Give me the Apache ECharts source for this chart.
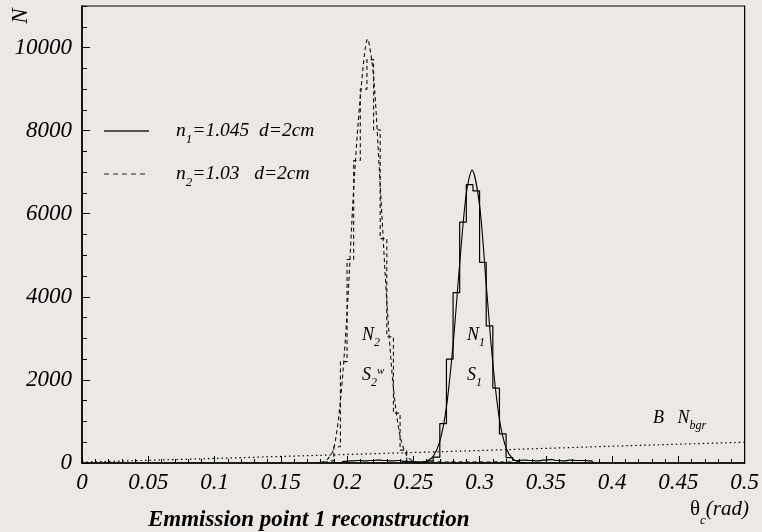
<!DOCTYPE html>
<html>
<head>
<meta charset="utf-8">
<script src="https://cdn.jsdelivr.net/npm/echarts@6/dist/echarts.min.js"></script>
<style>
html, body { margin: 0; padding: 0; background: #ebe8e6; }
#chart { width: 762px; height: 532px; }
</style>
</head>
<body>
<div id="chart"></div>
<script>
// histogram n1 = 1.045 (bin centres, width 0.005 rad)
var n1Bins   = [0.1925,0.1975,0.2025,0.2075,0.2125,0.2175,0.2225,0.2275,0.2325,0.2375,0.2425,0.2475,0.2525,0.2575,0.2625,0.2675,0.2725,0.2775,0.2825,0.2875,0.2925,0.2975,0.3025,0.3075,0.3125,0.3175,0.3225,0.3275,0.3325,0.3375,0.3425,0.3475,0.3525,0.3575,0.3625,0.3675,0.3725,0.3775,0.3825,0.3875];
var n1Counts = [0,40,50,60,50,60,70,60,50,60,40,30,20,30,50,140,950,2500,4100,5800,6700,6550,4830,3300,1800,700,130,60,70,60,50,70,80,60,50,70,60,60,50,0];

// histogram n2 = 1.03
var n2Bins   = [0.1775,0.1825,0.1875,0.1925,0.1975,0.2025,0.2075,0.2125,0.2175,0.2225,0.2275,0.2325,0.2375,0.2425,0.2475,0.2525,0.2575,0.2625,0.2675,0.2725,0.2775,0.2825,0.2875,0.2925,0.2975,0.3025,0.3075,0.3125,0.3175,0.3225,0.3275];
var n2Counts = [0,20,50,390,2440,4900,7280,9000,9710,8020,5400,3040,1200,310,40,20,30,20,30,20,30,20,30,20,30,20,20,30,20,20,0];

// fitted curves
var n1FitX = [0.25,0.255,0.26,0.265,0.27,0.275,0.28,0.285,0.29,0.2943,0.30,0.305,0.31,0.315,0.32,0.325,0.33,0.335];
var n1FitY = [0,10,40,160,520,1350,2850,4800,6500,7050,6200,4300,2400,1050,360,100,20,0];
var n2FitX = [0.18,0.185,0.19,0.195,0.2,0.205,0.21,0.2155,0.22,0.225,0.23,0.235,0.24,0.245,0.25,0.255];
var n2FitY = [10,80,350,1500,3600,6600,8800,10200,9300,6700,3900,1800,650,180,40,5];

// background B
var bgrX = [0,0.1,0.2,0.3,0.4,0.5];
var bgrY = [20,110,205,300,405,500];

var yTicks = [0,2000,4000,6000,8000,10000];

function pairs(xs, ys) {
  var out = [];
  for (var i = 0; i < xs.length; i++) out.push([xs[i], ys[i]]);
  return out;
}

var serif = 'Liberation Serif';
// rich text: main glyphs hang from the line top, subscripts sit on the line bottom
var txt = { fontFamily: serif, fontStyle: 'italic', fontSize: 18, lineHeight: 20, verticalAlign: 'top', color: '#000' };
var sub = { fontFamily: serif, fontStyle: 'italic', fontSize: 12, lineHeight: 23, verticalAlign: 'bottom', color: '#000' };
var sup = { fontFamily: serif, fontStyle: 'italic', fontSize: 11, lineHeight: 11, verticalAlign: 'top', color: '#000' };
var richSet = { t: txt, s: sub, p: sup, g: { width: 22 } };

var legRich = {
  t: { fontFamily: serif, fontStyle: 'italic', fontSize: 19.5, lineHeight: 22, verticalAlign: 'top', color: '#000' },
  s: { fontFamily: serif, fontStyle: 'italic', fontSize: 13, lineHeight: 25, verticalAlign: 'bottom', color: '#000' },
  g: { width: 22 }
};

var myChart = echarts.init(document.getElementById('chart'));
var option = {
  backgroundColor: '#ebe8e6',
  animation: false,
  title: {
    text: 'Emmission point 1 reconstruction',
    left: 148,
    top: 509,
    padding: 0,
    textStyle: { fontFamily: serif, fontStyle: 'italic', fontWeight: 'bold', fontSize: 23, color: '#000' }
  },
  legend: {
    orient: 'vertical',
    left: 103,
    top: 121,
    padding: 0,
    itemWidth: 45,
    itemHeight: 25,
    itemGap: 18,
    itemStyle: { opacity: 0 },
    data: [
      { name: 'n1', lineStyle: { width: 2, color: '#555' } },
      { name: 'n2', lineStyle: { width: 1, color: '#222', type: [5, 4] } }
    ],
    formatter: function (name) {
      if (name === 'n1') return '{g| }{t|n}{s|1}{t|=1.045  d=2cm}';
      return '{g| }{t|n}{s|2}{t|=1.03   d=2cm}';
    },
    textStyle: { rich: legRich, padding: [5, 0, 0, 0] }
  },
  grid: {
    left: 82, right: 16, top: 6, bottom: 69,
    show: true, borderColor: '#000', borderWidth: 1.2, backgroundColor: 'transparent'
  },
  xAxis: {
    type: 'value',
    min: 0, max: 0.5, interval: 0.05,
    axisLine: { lineStyle: { color: '#000', width: 1.5 } },
    axisTick: { inside: true, length: 7, lineStyle: { color: '#000' } },
    minorTick: { show: true, splitNumber: 5, length: 4, lineStyle: { color: '#000' } },
    splitLine: { show: false },
    axisLabel: {
      fontFamily: serif, fontStyle: 'italic', fontSize: 23, color: '#000', margin: 8,
      formatter: function (v) { return String(+v.toFixed(2)); }
    }
  },
  yAxis: [
    {
      type: 'value', position: 'left',
      min: 0, max: 11000, interval: 2000,
      axisLine: { show: true, lineStyle: { color: '#000', width: 1.5 } },
      axisTick: { inside: true, length: 8, lineStyle: { color: '#000' } },
      splitLine: { show: false },
      axisLabel: {
        fontFamily: serif, fontStyle: 'italic', fontSize: 23, color: '#000', margin: 10,
        showMaxLabel: false,
        formatter: function (v) { return yTicks.indexOf(v) >= 0 ? String(v) : ''; }
      }
    },
    {
      type: 'value', position: 'left', offset: 0,
      min: 0, max: 11000, interval: 500,
      axisLine: { show: false },
      axisTick: { inside: true, length: 5, lineStyle: { color: '#000' } },
      axisLabel: { show: false },
      splitLine: { show: false }
    }
  ],
  graphic: [
    { type: 'text', x: 21, y: 16, rotation: Math.PI / 2,
      style: { text: 'N', font: 'italic 23px "Liberation Serif"', fill: '#000', align: 'center', verticalAlign: 'middle' } },
    { type: 'text', left: 690, top: 499,
      style: { text: '{th|θ}{s|c}{t|(rad)}', fill: '#000',
        rich: {
          th: { fontFamily: serif, fontSize: 21, lineHeight: 23, verticalAlign: 'top' },
          s: { fontFamily: serif, fontStyle: 'italic', fontSize: 13, lineHeight: 28, verticalAlign: 'bottom' },
          t: { fontFamily: serif, fontStyle: 'italic', fontSize: 21, lineHeight: 23, verticalAlign: 'top' }
        } } },
    { type: 'text', left: 362, top: 326, style: { text: '{t|N}{s|2}', rich: richSet } },
    { type: 'text', left: 362, top: 366, style: { text: '{t|S}{s|2}{p|w}', rich: richSet } },
    { type: 'text', left: 467, top: 326, style: { text: '{t|N}{s|1}', rich: richSet } },
    { type: 'text', left: 467, top: 366, style: { text: '{t|S}{s|1}', rich: richSet } },
    { type: 'text', left: 653, top: 409, style: { text: '{t|B   N}{s|bgr}', rich: richSet } }
  ],
  series: [
    {
      name: 'bgr', type: 'line', symbol: 'none', silent: true,
      data: pairs(bgrX, bgrY),
      lineStyle: { color: '#000', width: 1.2, type: [1.5, 3] }
    },
    {
      name: 'n2', type: 'line', step: 'middle', symbol: 'none',
      data: pairs(n2Bins, n2Counts),
      lineStyle: { color: '#111', width: 1.1, type: [4, 3] },
      itemStyle: { color: '#111' }
    },
    {
      name: 'n2 fit', type: 'line', smooth: 0.3, symbol: 'none',
      data: pairs(n2FitX, n2FitY),
      lineStyle: { color: '#111', width: 1.1, type: [4, 3] }
    },
    {
      name: 'n1', type: 'line', step: 'middle', symbol: 'none',
      data: pairs(n1Bins, n1Counts),
      lineStyle: { color: '#000', width: 1.2 },
      itemStyle: { color: '#000' }
    },
    {
      name: 'n1 fit', type: 'line', smooth: 0.3, symbol: 'none',
      data: pairs(n1FitX, n1FitY),
      lineStyle: { color: '#000', width: 1.1 }
    }
  ]
};
myChart.setOption(option);
</script>
</body>
</html>
